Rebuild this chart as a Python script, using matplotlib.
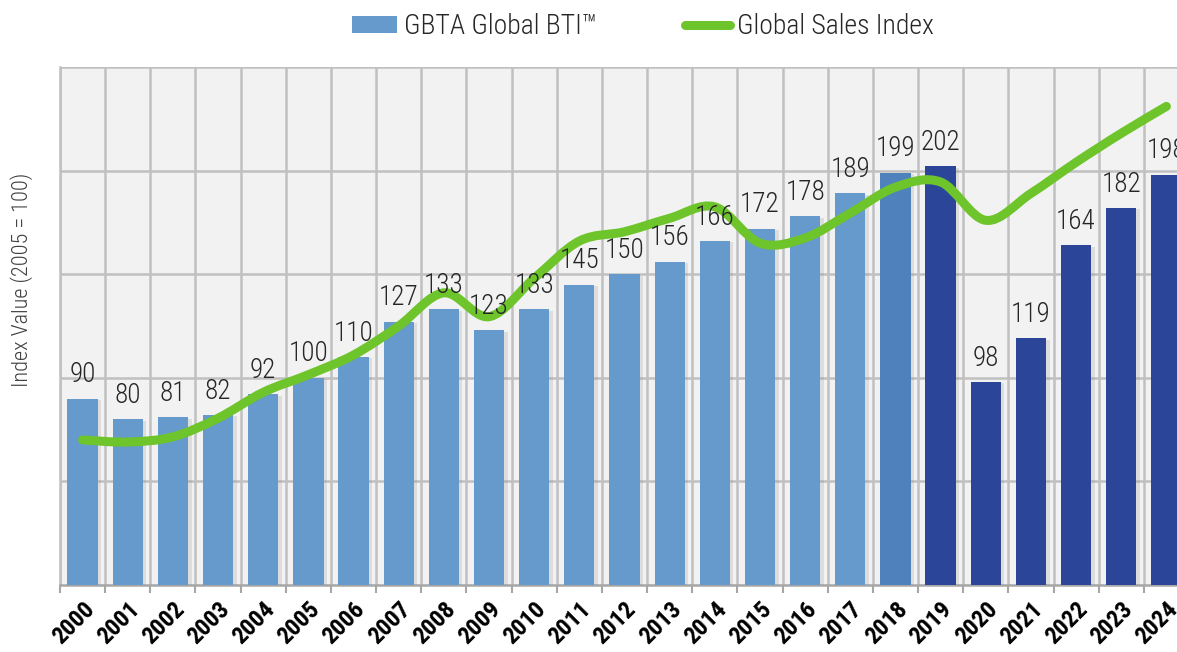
import matplotlib
matplotlib.use("Agg")
import matplotlib.pyplot as plt
import matplotlib.patheffects as pe
from matplotlib import font_manager
from matplotlib.path import Path
from matplotlib.patches import PathPatch, Patch
from matplotlib.lines import Line2D

# data
years = [str(y) for y in range(2000, 2025)]
bti = [90, 80, 81, 82, 92, 100, 110, 127, 133, 123, 133, 145, 150,
       156, 166, 172, 178, 189, 199, 202, 98, 119, 164, 182, 198]
sales = [70, 69, 71.5, 80.5, 93, 101.5, 111, 125, 141, 129.5, 148, 166,
         170.5, 177, 182.5, 165, 167.5, 179.5, 192, 194.5, 176, 189,
         204, 218, 231]

light_blue = '#6699CC'
mid_blue = '#4F81BD'
dark_blue = '#2B4699'
green = '#6EC42B'
grid_col = '#C0C0C0'

bar_colors = [light_blue] * 18 + [mid_blue] + [dark_blue] * 6

# look for a narrow / condensed face, the chart uses one
font_names = sorted({f.name for f in font_manager.fontManager.ttflist})
def pick_font(cands):
    for c in cands:
        if c in font_names:
            return c
    for n in font_names:
        if 'Condensed' in n or 'Narrow' in n:
            return n
    return 'DejaVu Sans'

narrow_name = pick_font(['Roboto Condensed', 'Liberation Sans Narrow',
                         'Open Sans Condensed', 'Noto Sans Condensed',
                         'DejaVu Sans Condensed'])
narrow = [narrow_name, 'DejaVu Sans']

fig = plt.figure(figsize=(11.77, 6.52), dpi=100)
ax = fig.add_axes([60 / 1177, 67 / 652, 1129 / 1177, 518 / 652])
ax.set_facecolor('#F2F2F2')

x = list(range(len(years)))
bars = ax.bar(x, bti, width=0.67, color=bar_colors, zorder=3)
for b in bars:
    b.set_path_effects([pe.SimplePatchShadow(offset=(2.5, -1), alpha=0.18,
                                             shadow_rgbFace='#808080'),
                        pe.Normal()])

for xi, v in zip(x, bti):
    ax.text(xi, v + 5, str(v), ha='center', va='bottom', fontsize=19.5,
            family=narrow, fontweight='light', fontstretch='condensed',
            color='#262626', zorder=6)

# smoothed line (catmull-rom style, like Excel's smoothed line)
pts = list(zip(x, sales))
verts = [pts[0]]
codes = [Path.MOVETO]
n = len(pts)
for i in range(n - 1):
    p0 = pts[i - 1] if i > 0 else pts[i]
    p1 = pts[i]
    p2 = pts[i + 1]
    p3 = pts[i + 2] if i + 2 < n else pts[i + 1]
    c1 = (p1[0] + (p2[0] - p0[0]) / 6, p1[1] + (p2[1] - p0[1]) / 6)
    c2 = (p2[0] - (p3[0] - p1[0]) / 6, p2[1] - (p3[1] - p1[1]) / 6)
    verts += [c1, c2, p2]
    codes += [Path.CURVE4] * 3
ax.add_patch(PathPatch(Path(verts, codes), fill=False, edgecolor=green,
                       linewidth=6.5, capstyle='round', joinstyle='round',
                       zorder=5))

ax.set_xlim(-0.5, len(years) - 0.5)
ax.set_ylim(0, 250)
ax.set_yticks([50, 100, 150, 200, 250])
ax.set_yticklabels([])
ax.tick_params(axis='y', length=0)
ax.set_xticks(x)
ax.set_xticklabels(years, rotation=45, ha='right', rotation_mode='anchor',
                   fontsize=17.5, fontweight='bold', fontstretch='condensed',
                   family=narrow)
ax.tick_params(axis='x', which='major', length=0, pad=9)
ax.set_xticks([i - 0.5 for i in range(len(years) + 1)], minor=True)
ax.tick_params(axis='x', which='minor', length=6, width=1.5, color='#A6A6A6')
ax.grid(axis='y', which='major', color=grid_col, linewidth=1.8, zorder=0)
ax.grid(axis='x', which='minor', color=grid_col, linewidth=1.8, zorder=0)
ax.set_axisbelow(True)
for s in ['top', 'right']:
    ax.spines[s].set_visible(False)
ax.spines['left'].set_color(grid_col)
ax.spines['left'].set_linewidth(1.8)
ax.spines['bottom'].set_color('#A6A6A6')
ax.spines['bottom'].set_linewidth(1.8)

fig.text(22 / 1177, 1 - 280 / 652, 'Index Value (2005 = 100)', rotation=90,
         ha='center', va='center', fontsize=16, family=narrow,
         fontweight='light', fontstretch='condensed', color='#404040')

handles = [Patch(facecolor=light_blue, edgecolor='none'),
           Line2D([0], [0], color=green, linewidth=6.5,
                  solid_capstyle='round')]
fig.legend(handles, ['GBTA Global BTI\u2122', 'Global Sales Index'],
           loc='center', bbox_to_anchor=(643 / 1177, 1 - 27 / 652), ncol=2,
           frameon=False,
           prop={'family': narrow, 'size': 20, 'weight': 'light',
                 'stretch': 'condensed'},
           handlelength=1.6, handleheight=0.55, handletextpad=0.25,
           columnspacing=3.2, labelcolor='#262626')

fig.savefig('out.png', dpi=100)
